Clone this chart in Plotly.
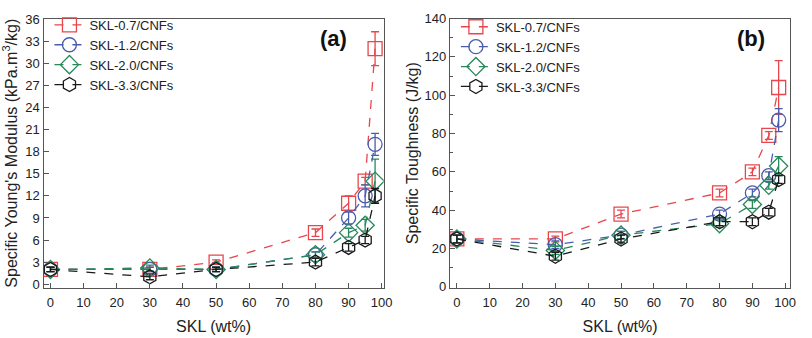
import plotly.graph_objects as go

# SKL loading (wt%)
skl = [0, 30, 50, 80, 90, 95, 98]

series_names = ["SKL-0.7/CNFs", "SKL-1.2/CNFs", "SKL-2.0/CNFs", "SKL-3.3/CNFs"]

# Specific Young's modulus (kPa.m3/kg) and error
modulus_07 = [2.0, 2.0, 3.0, 7.0, 11.0, 14.0, 32.0]
modulus_12 = [2.0, 2.0, 2.0, 4.0, 9.0, 12.0, 19.0]
modulus_20 = [2.0, 2.2, 2.0, 4.0, 7.0, 8.0, 14.0]
modulus_33 = [2.0, 1.0, 2.0, 3.0, 5.0, 6.0, 12.0]
modulus_err_07 = [0.3, 0.3, 0.3, 0.5, 1.0, 0.5, 2.3]
modulus_err_12 = [0.3, 0.3, 0.3, 0.4, 0.8, 1.5, 1.5]
modulus_err_20 = [0.3, 0.4, 0.3, 0.4, 0.6, 0.8, 3.0]
modulus_err_33 = [0.3, 0.4, 0.3, 0.5, 0.5, 0.5, 1.0]

# Specific toughness (J/kg) and error
tough_07 = [25, 25, 38, 49, 60, 79, 104]
tough_12 = [25, 22, 27, 38, 49, 58, 87]
tough_20 = [25, 19, 27, 33, 43, 53, 63]
tough_33 = [25, 16, 25, 34, 34, 39, 56]
tough_err_07 = [2, 1.5, 2, 2, 2, 2, 14]
tough_err_12 = [2, 2, 2, 2, 2, 2, 6]
tough_err_20 = [2, 2, 2, 2, 2, 2, 5]
tough_err_33 = [2, 2, 2, 2, 2, 2, 2]

colors = ["#e8464c", "#4a5cae", "#27885a", "#1a1a1a"]
symbols = ["square-open", "circle-open", "diamond-open", "hexagon-open"]

modulus = [modulus_07, modulus_12, modulus_20, modulus_33]
modulus_err = [modulus_err_07, modulus_err_12, modulus_err_20, modulus_err_33]
tough = [tough_07, tough_12, tough_20, tough_33]
tough_err = [tough_err_07, tough_err_12, tough_err_20, tough_err_33]

FONT = "Liberation Sans, Arial, sans-serif"
fig = go.Figure()

for i, name in enumerate(series_names):
    fig.add_trace(go.Scatter(
        x=skl, y=modulus[i], name=name, mode="lines+markers",
        line=dict(color=colors[i], width=1.3, dash="dash"),
        marker=dict(symbol=symbols[i], size=14, color=colors[i], line=dict(width=1.3)),
        error_y=dict(type="data", array=modulus_err[i], color=colors[i], thickness=1.3, width=4),
        xaxis="x", yaxis="y", legend="legend",
    ))
for i, name in enumerate(series_names):
    fig.add_trace(go.Scatter(
        x=skl, y=tough[i], name=name, mode="lines+markers",
        line=dict(color=colors[i], width=1.3, dash="dash"),
        marker=dict(symbol=symbols[i], size=14, color=colors[i], line=dict(width=1.3)),
        error_y=dict(type="data", array=tough_err[i], color=colors[i], thickness=1.3, width=4),
        xaxis="x2", yaxis="y2", legend="legend2",
    ))

W, H = 812, 338
ydom = [(H - 293) / H, (H - 12) / H]

axis_common = dict(
    showline=True, linecolor="#555555", linewidth=1.3, mirror=True,
    ticks="inside", ticklen=5, tickwidth=1.2, tickcolor="#555555",
    showgrid=False, zeroline=False,
    tickfont=dict(family=FONT, size=13, color="#222222"),
)
title_font = dict(family=FONT, size=16, color="#222222")
legend_font = dict(family=FONT, size=13, color="#222222")

fig.update_layout(
    width=W, height=H,
    margin=dict(l=0, r=0, t=0, b=0),
    paper_bgcolor="white", plot_bgcolor="white",
    showlegend=True,
    xaxis=dict(domain=[44 / W, 388 / W], range=[-2.1, 100.6], tickvals=list(range(0, 101, 10)),
               title=dict(text="SKL (wt%)", font=title_font, standoff=12),
               ticklabelstandoff=2, anchor="y", **axis_common),
    yaxis=dict(domain=ydom, range=[-0.5, 36.1], tickvals=list(range(0, 37, 3)),
               title=dict(text="Specific Young's Modulus (kPa.m<sup>3</sup>/kg)",
                          font=title_font, standoff=5),
               anchor="x", **axis_common),
    xaxis2=dict(domain=[455 / W, 799 / W], range=[-2.1, 101.5], tickvals=list(range(0, 101, 10)),
                title=dict(text="SKL (wt%)", font=title_font, standoff=12),
                ticklabelstandoff=2, anchor="y2", **axis_common),
    yaxis2=dict(domain=ydom, range=[-0.5, 140], tickvals=list(range(0, 141, 20)),
                minor=dict(ticks="inside", ticklen=3, tickcolor="#555555", dtick=10),
                title=dict(text="Specific Toughness (J/kg)", font=title_font, standoff=1),
                anchor="x2", **axis_common),
    legend=dict(x=50 / W, y=1 - 3 / H, xanchor="left", yanchor="top",
                bgcolor="rgba(0,0,0,0)", font=legend_font, tracegroupgap=0, itemwidth=30),
    legend2=dict(x=461 / W, y=1 - 5 / H, xanchor="left", yanchor="top",
                 bgcolor="rgba(0,0,0,0)", font=legend_font, tracegroupgap=0, itemwidth=30),
    annotations=[
        dict(text="<b>(a)</b>", x=337 / W, y=1 - 33 / H, xref="paper", yref="paper",
             xanchor="center", yanchor="middle",
             showarrow=False, font=dict(family=FONT, size=22, color="#111111")),
        dict(text="<b>(b)</b>", x=759 / W, y=1 - 33 / H, xref="paper", yref="paper",
             xanchor="center", yanchor="middle",
             showarrow=False, font=dict(family=FONT, size=22, color="#111111")),
    ],
)

fig.write_html("out.html")
